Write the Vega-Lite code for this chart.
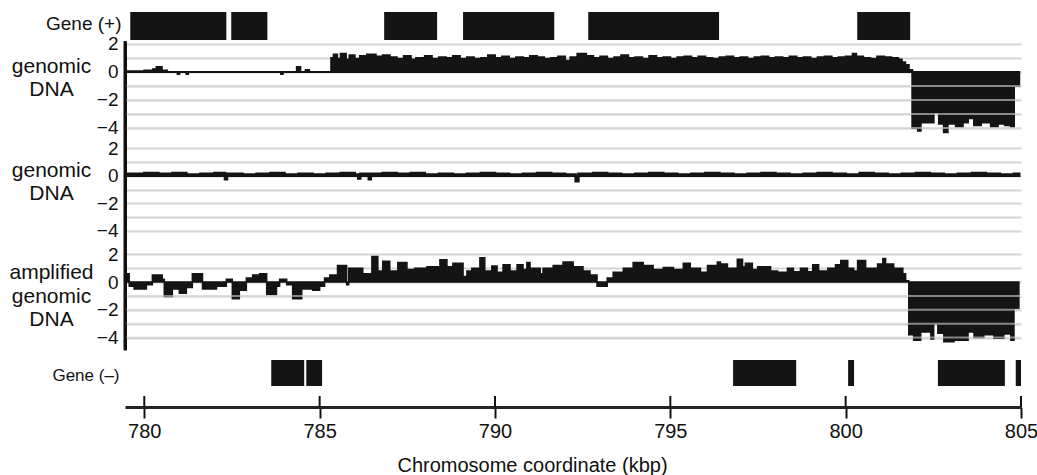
{
"$schema": "https://vega.github.io/schema/vega-lite/v6.json",
"background": "white",
"padding": {"left": 8, "top": 8, "right": 0, "bottom": 0},
"spacing": 0,
"bounds": "flush",
"config": {"view": {"stroke": null}, "font": "Liberation Sans"},
"datasets": {
"geneplus": [{"start":779.60,"end":782.34},{"start":782.48,"end":783.51},{"start":786.84,"end":788.35},{"start":789.09,"end":791.69},{"start":792.66,"end":796.39},{"start":800.33,"end":801.84}],
"geneminus": [{"start":783.62,"end":784.56},{"start":784.62,"end":785.07},{"start":796.79,"end":798.59},{"start":800.07,"end":800.24},{"start":802.63,"end":804.54},{"start":804.85,"end":805.0}],
"ticks": [{"t":780},{"t":785},{"t":790},{"t":795},{"t":800},{"t":805}],
"neg": [{"g":-1},{"g":-2},{"g":-3},{"g":-4}],
"edge": [{"e":779.45}],
"p1": [
{"kbp":779.5,"v":0.05},{"kbp":780.0,"v":0.1},{"kbp":780.25,"v":0.2},{"kbp":780.35,"v":0.35},{"kbp":780.5,"v":0.1},{"kbp":780.65,"v":0.0},{"kbp":780.95,"v":-0.15},{"kbp":781.0,"v":0.0},{"kbp":781.2,"v":-0.15},{"kbp":781.25,"v":0.0},{"kbp":783.9,"v":-0.15},{"kbp":783.95,"v":0.0},{"kbp":784.35,"v":0.35},{"kbp":784.45,"v":0.0},{"kbp":784.6,"v":0.15},{"kbp":784.7,"v":0.0},
{"kbp":785.33,"v":1.0},{"kbp":785.4,"v":1.25},{"kbp":785.5,"v":0.95},{"kbp":785.6,"v":1.3},{"kbp":785.75,"v":0.9},{"kbp":785.85,"v":1.2},{"kbp":786.0,"v":0.95},{"kbp":786.15,"v":1.15},{"kbp":786.35,"v":1.25},{"kbp":786.6,"v":1.1},{"kbp":786.8,"v":1.2},{"kbp":787.0,"v":1.05},{"kbp":787.2,"v":0.95},{"kbp":787.4,"v":1.15},{"kbp":787.6,"v":0.9},{"kbp":787.75,"v":1.0},{"kbp":788.0,"v":1.15},{"kbp":788.2,"v":0.95},{"kbp":788.4,"v":1.05},{"kbp":788.6,"v":1.0},{"kbp":788.8,"v":1.15},{"kbp":789.0,"v":0.95},{"kbp":789.2,"v":1.05},{"kbp":789.4,"v":0.95},{"kbp":789.6,"v":1.0},{"kbp":789.8,"v":1.2},{"kbp":790.0,"v":1.0},{"kbp":790.2,"v":1.1},{"kbp":790.4,"v":0.95},{"kbp":790.6,"v":1.05},{"kbp":790.8,"v":1.0},{"kbp":791.0,"v":1.15},{"kbp":791.2,"v":1.05},{"kbp":791.4,"v":0.95},{"kbp":791.6,"v":1.0},{"kbp":791.8,"v":1.1},{"kbp":792.0,"v":0.8},{"kbp":792.15,"v":1.05},{"kbp":792.35,"v":1.3},{"kbp":792.6,"v":1.15},{"kbp":792.8,"v":1.0},{"kbp":793.0,"v":1.1},{"kbp":793.2,"v":0.95},{"kbp":793.4,"v":1.05},{"kbp":793.6,"v":1.2},{"kbp":793.8,"v":1.0},{"kbp":794.0,"v":1.05},{"kbp":794.2,"v":0.95},{"kbp":794.4,"v":1.15},{"kbp":794.6,"v":1.0},{"kbp":794.8,"v":1.05},{"kbp":795.0,"v":0.95},{"kbp":795.2,"v":1.05},{"kbp":795.4,"v":1.1},{"kbp":795.6,"v":1.0},{"kbp":795.8,"v":1.1},{"kbp":796.0,"v":1.0},{"kbp":796.2,"v":0.95},{"kbp":796.4,"v":1.05},{"kbp":796.6,"v":1.1},{"kbp":796.8,"v":1.0},{"kbp":797.0,"v":1.05},{"kbp":797.2,"v":0.95},{"kbp":797.4,"v":1.05},{"kbp":797.6,"v":1.1},{"kbp":797.8,"v":1.0},{"kbp":798.0,"v":1.05},{"kbp":798.2,"v":1.0},{"kbp":798.4,"v":1.1},{"kbp":798.6,"v":1.0},{"kbp":798.8,"v":1.05},{"kbp":799.0,"v":0.95},{"kbp":799.2,"v":1.05},{"kbp":799.4,"v":1.1},{"kbp":799.6,"v":1.0},{"kbp":799.8,"v":1.05},{"kbp":800.0,"v":1.1},{"kbp":800.2,"v":1.3},{"kbp":800.3,"v":1.1},{"kbp":800.5,"v":1.0},{"kbp":800.7,"v":0.95},{"kbp":800.9,"v":1.1},{"kbp":801.1,"v":1.05},{"kbp":801.3,"v":1.0},{"kbp":801.5,"v":0.9},{"kbp":801.6,"v":0.7},{"kbp":801.7,"v":0.5},{"kbp":801.8,"v":0.15},
{"kbp":801.9,"v":-4.0},{"kbp":802.06,"v":-4.2},{"kbp":802.14,"v":-3.6},{"kbp":802.51,"v":-2.9},{"kbp":802.66,"v":-3.7},{"kbp":802.8,"v":-4.3},{"kbp":802.91,"v":-3.7},{"kbp":803.14,"v":-3.9},{"kbp":803.34,"v":-3.6},{"kbp":803.49,"v":-3.3},{"kbp":803.66,"v":-3.8},{"kbp":803.86,"v":-3.6},{"kbp":804.14,"v":-3.9},{"kbp":804.34,"v":-3.7},{"kbp":804.54,"v":-3.8},{"kbp":804.71,"v":-3.9},{"kbp":804.8,"v":-1.0},{"kbp":804.95,"v":-1.0}
],
"p2": [
{"kbp":779.5,"v":0.15},{"kbp":780.0,"v":0.2},{"kbp":780.4,"v":0.15},{"kbp":780.8,"v":0.2},{"kbp":781.2,"v":0.1},{"kbp":781.6,"v":0.15},{"kbp":782.0,"v":0.2},{"kbp":782.3,"v":-0.25},{"kbp":782.36,"v":0.15},{"kbp":782.8,"v":0.1},{"kbp":783.2,"v":0.15},{"kbp":783.6,"v":0.2},{"kbp":784.0,"v":0.1},{"kbp":784.4,"v":0.15},{"kbp":784.8,"v":0.1},{"kbp":785.2,"v":0.15},{"kbp":785.6,"v":0.2},{"kbp":786.0,"v":0.1},{"kbp":786.1,"v":-0.2},{"kbp":786.16,"v":0.15},{"kbp":786.4,"v":-0.25},{"kbp":786.46,"v":0.15},{"kbp":786.8,"v":0.2},{"kbp":787.2,"v":0.15},{"kbp":787.6,"v":0.2},{"kbp":788.0,"v":0.1},{"kbp":788.4,"v":0.15},{"kbp":788.8,"v":0.1},{"kbp":789.2,"v":0.15},{"kbp":789.6,"v":0.2},{"kbp":790.0,"v":0.15},{"kbp":790.4,"v":0.1},{"kbp":790.8,"v":0.15},{"kbp":791.2,"v":0.2},{"kbp":791.6,"v":0.15},{"kbp":792.0,"v":0.1},{"kbp":792.3,"v":-0.4},{"kbp":792.38,"v":0.15},{"kbp":792.8,"v":0.2},{"kbp":793.2,"v":0.15},{"kbp":793.6,"v":0.1},{"kbp":794.0,"v":0.15},{"kbp":794.4,"v":0.2},{"kbp":794.8,"v":0.15},{"kbp":795.2,"v":0.1},{"kbp":795.6,"v":0.15},{"kbp":796.0,"v":0.2},{"kbp":796.4,"v":0.15},{"kbp":796.8,"v":0.1},{"kbp":797.2,"v":0.15},{"kbp":797.6,"v":0.2},{"kbp":798.0,"v":0.15},{"kbp":798.4,"v":0.1},{"kbp":798.8,"v":0.15},{"kbp":799.2,"v":0.2},{"kbp":799.6,"v":0.15},{"kbp":800.0,"v":0.1},{"kbp":800.4,"v":0.2},{"kbp":800.8,"v":0.15},{"kbp":801.2,"v":0.1},{"kbp":801.6,"v":0.15},{"kbp":802.0,"v":0.2},{"kbp":802.4,"v":0.15},{"kbp":802.8,"v":0.1},{"kbp":803.2,"v":0.15},{"kbp":803.6,"v":0.2},{"kbp":804.0,"v":0.15},{"kbp":804.4,"v":0.1},{"kbp":804.8,"v":0.15},{"kbp":804.95,"v":0.15}
],
"p3": [
{"kbp":779.49,"v":0.6},{"kbp":779.57,"v":-0.3},{"kbp":779.71,"v":-0.5},{"kbp":780.06,"v":-0.2},{"kbp":780.23,"v":0.5},{"kbp":780.51,"v":0.2},{"kbp":780.57,"v":-1.05},{"kbp":780.8,"v":-0.5},{"kbp":781.0,"v":-0.8},{"kbp":781.2,"v":-0.4},{"kbp":781.37,"v":0.6},{"kbp":781.66,"v":-0.5},{"kbp":782.06,"v":-0.3},{"kbp":782.34,"v":0.2},{"kbp":782.51,"v":-1.2},{"kbp":782.71,"v":-0.6},{"kbp":782.91,"v":0.3},{"kbp":783.09,"v":0.5},{"kbp":783.29,"v":0.6},{"kbp":783.49,"v":-0.9},{"kbp":783.77,"v":-0.3},{"kbp":783.86,"v":0.2},{"kbp":784.06,"v":-0.2},{"kbp":784.23,"v":-1.2},{"kbp":784.49,"v":-0.5},{"kbp":784.8,"v":-0.6},{"kbp":785.0,"v":-0.3},{"kbp":785.14,"v":0.3},{"kbp":785.29,"v":0.5},{"kbp":785.51,"v":1.2},{"kbp":785.77,"v":-0.2},{"kbp":785.83,"v":1.0},{"kbp":786.23,"v":0.6},{"kbp":786.49,"v":1.85},{"kbp":786.66,"v":0.8},{"kbp":786.8,"v":1.5},{"kbp":787.0,"v":0.8},{"kbp":787.23,"v":1.4},{"kbp":787.49,"v":0.9},{"kbp":787.71,"v":1.0},{"kbp":788.06,"v":1.1},{"kbp":788.43,"v":1.6},{"kbp":788.63,"v":1.1},{"kbp":788.8,"v":1.35},{"kbp":789.09,"v":0.4},{"kbp":789.2,"v":0.8},{"kbp":789.34,"v":1.0},{"kbp":789.57,"v":1.75},{"kbp":789.71,"v":0.8},{"kbp":789.91,"v":1.15},{"kbp":790.06,"v":0.7},{"kbp":790.23,"v":1.25},{"kbp":790.43,"v":0.8},{"kbp":790.63,"v":1.25},{"kbp":790.8,"v":0.9},{"kbp":790.91,"v":1.4},{"kbp":791.0,"v":1.0},{"kbp":791.29,"v":0.6},{"kbp":791.37,"v":1.0},{"kbp":791.66,"v":1.2},{"kbp":791.94,"v":1.45},{"kbp":792.23,"v":1.1},{"kbp":792.51,"v":0.8},{"kbp":792.71,"v":0.5},{"kbp":792.91,"v":-0.3},{"kbp":793.2,"v":0.3},{"kbp":793.37,"v":0.7},{"kbp":793.66,"v":1.0},{"kbp":793.94,"v":1.4},{"kbp":794.23,"v":1.2},{"kbp":794.51,"v":0.9},{"kbp":794.8,"v":1.05},{"kbp":795.09,"v":0.9},{"kbp":795.37,"v":1.35},{"kbp":795.57,"v":1.0},{"kbp":795.86,"v":0.7},{"kbp":796.06,"v":1.2},{"kbp":796.34,"v":1.45},{"kbp":796.43,"v":1.3},{"kbp":796.63,"v":1.0},{"kbp":796.91,"v":1.65},{"kbp":797.06,"v":1.1},{"kbp":797.14,"v":1.35},{"kbp":797.34,"v":0.9},{"kbp":797.49,"v":1.1},{"kbp":797.86,"v":0.8},{"kbp":798.06,"v":0.7},{"kbp":798.34,"v":1.0},{"kbp":798.51,"v":0.75},{"kbp":798.71,"v":1.0},{"kbp":798.91,"v":0.75},{"kbp":799.06,"v":1.25},{"kbp":799.23,"v":0.8},{"kbp":799.49,"v":1.0},{"kbp":799.71,"v":1.25},{"kbp":799.86,"v":1.55},{"kbp":800.06,"v":1.0},{"kbp":800.23,"v":0.8},{"kbp":800.34,"v":1.55},{"kbp":800.57,"v":1.0},{"kbp":800.91,"v":1.3},{"kbp":801.06,"v":1.7},{"kbp":801.14,"v":1.3},{"kbp":801.37,"v":1.0},{"kbp":801.63,"v":0.6},{"kbp":801.71,"v":0.1},
{"kbp":801.8,"v":-3.8},{"kbp":801.94,"v":-4.2},{"kbp":802.14,"v":-3.6},{"kbp":802.43,"v":-4.1},{"kbp":802.51,"v":-3.0},{"kbp":802.63,"v":-3.7},{"kbp":802.8,"v":-4.3},{"kbp":803.09,"v":-4.2},{"kbp":803.49,"v":-3.6},{"kbp":803.66,"v":-4.0},{"kbp":803.94,"v":-3.8},{"kbp":804.23,"v":-4.05},{"kbp":804.51,"v":-3.75},{"kbp":804.71,"v":-4.2},{"kbp":804.8,"v":-1.9},{"kbp":804.94,"v":-1.9}
]
},
"vconcat": [
{
 "width": 896, "height": 33,
 "data": {"name": "geneplus"},
 "mark": {"type": "rect", "fill": "#141414"},
 "encoding": {
  "x": {"field": "start", "type": "quantitative", "scale": {"domain": [779.45, 805.0], "nice": false, "zero": false}, "axis": null},
  "x2": {"field": "end"},
  "y": {"datum": 0.03, "type": "quantitative", "scale": {"domain": [0, 1], "nice": false},
        "axis": {"title": "Gene (+)", "titleAngle": 0, "titleAlign": "right", "titleBaseline": "alphabetic", "titleX": -4, "titleY": 21, "titleFontSize": 19, "titleFontWeight": "normal", "titleColor": "#111", "labels": false, "ticks": false, "domain": false, "grid": false}},
  "y2": {"datum": 0.879}
 }
},
{
 "width": 896, "height": 101,
 "layer": [
  {"data": {"name": "p1"},
   "mark": {"type": "area", "interpolate": "step-after", "fill": "#141414", "stroke": "#141414", "strokeWidth": 2},
   "encoding": {
    "x": {"field": "kbp", "type": "quantitative", "scale": {"domain": [779.45, 805.0], "nice": false, "zero": false}, "axis": null},
    "y": {"field": "v", "type": "quantitative", "scale": {"domain": [-5.0, 2.214], "nice": false},
          "axis": {"values": [2,1,0,-1,-2,-3,-4], "format": "d", "labelExpr": "datum.value % 2 === 0 ? datum.label : ''", "ticks": false, "tickSize": 0, "labelPadding": 7, "labelFontSize": 19, "labelColor": "#111", "labelBound": false, "labelOverlap": false, "domain": true, "domainColor": "#111", "domainWidth": 3, "grid": true, "gridColor": "#d4d4d4", "gridWidth": 2, "title": ["genomic", "DNA"], "titleAngle": 0, "titleAlign": "center", "titleBaseline": "alphabetic", "titleX": -74, "titleY": 31.5, "titleFontSize": 21, "titleFontWeight": "normal", "titleLineHeight": 23, "titleColor": "#111"}},
    "y2": {"datum": 0}
   }},
  {"data": {"name": "neg"},
   "mark": {"type": "rule", "color": "#d4d4d4", "opacity": 0.6, "strokeWidth": 2},
   "encoding": {"y": {"field": "g", "type": "quantitative",
          "axis": {"values": [2,1,0,-1,-2,-3,-4], "format": "d", "labelExpr": "datum.value % 2 === 0 ? datum.label : ''", "ticks": false, "tickSize": 0, "labelPadding": 7, "labelFontSize": 19, "labelColor": "#111", "labelBound": false, "labelOverlap": false, "domain": true, "domainColor": "#111", "domainWidth": 3, "grid": true, "gridColor": "#d4d4d4", "gridWidth": 2, "title": ["genomic", "DNA"], "titleAngle": 0, "titleAlign": "center", "titleBaseline": "alphabetic", "titleX": -74, "titleY": 31.5, "titleFontSize": 21, "titleFontWeight": "normal", "titleLineHeight": 23, "titleColor": "#111"}}}},
  {"data": {"name": "edge"},
   "mark": {"type": "rule", "color": "#111", "strokeWidth": 3},
   "encoding": {"x": {"field": "e", "type": "quantitative"}}}
 ]
},
{
 "width": 896, "height": 106,
 "layer": [
  {"data": {"name": "p2"},
   "mark": {"type": "area", "interpolate": "step-after", "fill": "#141414", "stroke": "#141414", "strokeWidth": 2.5},
   "encoding": {
    "x": {"field": "kbp", "type": "quantitative", "scale": {"domain": [779.45, 805.0], "nice": false, "zero": false}, "axis": null},
    "y": {"field": "v", "type": "quantitative", "scale": {"domain": [-5.26, 2.459], "nice": false},
          "axis": {"values": [2,1,0,-1,-2,-3,-4], "format": "d", "labelExpr": "datum.value % 2 === 0 ? datum.label : ''", "ticks": false, "tickSize": 0, "labelPadding": 7, "labelFontSize": 19, "labelColor": "#111", "labelBound": false, "labelOverlap": false, "domain": true, "domainColor": "#111", "domainWidth": 3, "grid": true, "gridColor": "#d4d4d4", "gridWidth": 2, "title": ["genomic", "DNA"], "titleAngle": 0, "titleAlign": "center", "titleBaseline": "alphabetic", "titleX": -74, "titleY": 34.5, "titleFontSize": 21, "titleFontWeight": "normal", "titleLineHeight": 23, "titleColor": "#111"}},
    "y2": {"datum": 0}
   }},
  {"data": {"name": "edge"},
   "mark": {"type": "rule", "color": "#111", "strokeWidth": 3},
   "encoding": {"x": {"field": "e", "type": "quantitative"}}}
 ]
},
{
 "width": 896, "height": 102,
 "layer": [
  {"data": {"name": "p3"},
   "mark": {"type": "area", "interpolate": "step-after", "fill": "#141414", "stroke": "#141414", "strokeWidth": 1.5},
   "encoding": {
    "x": {"field": "kbp", "type": "quantitative", "scale": {"domain": [779.45, 805.0], "nice": false, "zero": false}, "axis": null},
    "y": {"field": "v", "type": "quantitative", "scale": {"domain": [-4.9, 2.454], "nice": false},
          "axis": {"values": [2,1,0,-1,-2,-3,-4], "format": "d", "labelExpr": "datum.value % 2 === 0 ? datum.label : ''", "ticks": false, "tickSize": 0, "labelPadding": 7, "labelFontSize": 19, "labelColor": "#111", "labelBound": false, "labelOverlap": false, "domain": true, "domainColor": "#111", "domainWidth": 3, "grid": true, "gridColor": "#d4d4d4", "gridWidth": 2, "title": ["amplified", "genomic", "DNA"], "titleAngle": 0, "titleAlign": "center", "titleBaseline": "alphabetic", "titleX": -74, "titleY": 30.6, "titleFontSize": 21, "titleFontWeight": "normal", "titleLineHeight": 23.5, "titleColor": "#111"}},
    "y2": {"datum": 0}
   }},
  {"data": {"name": "neg"},
   "mark": {"type": "rule", "color": "#d4d4d4", "opacity": 0.6, "strokeWidth": 2},
   "encoding": {"y": {"field": "g", "type": "quantitative",
          "axis": {"values": [2,1,0,-1,-2,-3,-4], "format": "d", "labelExpr": "datum.value % 2 === 0 ? datum.label : ''", "ticks": false, "tickSize": 0, "labelPadding": 7, "labelFontSize": 19, "labelColor": "#111", "labelBound": false, "labelOverlap": false, "domain": true, "domainColor": "#111", "domainWidth": 3, "grid": true, "gridColor": "#d4d4d4", "gridWidth": 2, "title": ["amplified", "genomic", "DNA"], "titleAngle": 0, "titleAlign": "center", "titleBaseline": "alphabetic", "titleX": -74, "titleY": 30.6, "titleFontSize": 21, "titleFontWeight": "normal", "titleLineHeight": 23.5, "titleColor": "#111"}}}},
  {"data": {"name": "edge"},
   "mark": {"type": "rule", "color": "#111", "strokeWidth": 3},
   "encoding": {"x": {"field": "e", "type": "quantitative"}}}
 ]
},
{
 "width": 896, "height": 57,
 "layer": [
  {"data": {"name": "geneminus"},
   "mark": {"type": "rect", "fill": "#141414"},
   "encoding": {
    "x": {"field": "start", "type": "quantitative", "scale": {"domain": [779.45, 805.0], "nice": false, "zero": false},
          "axis": {"values": [780,785,790,795,800,805], "format": "d", "tickSize": 11, "tickWidth": 2, "tickColor": "#111", "domainColor": "#222", "domainWidth": 3, "labelFontSize": 20, "labelPadding": 3, "labelFlush": false, "labelColor": "#111", "labelOverlap": false, "labelBound": false, "grid": false, "title": "Chromosome coordinate (kbp)", "titleFontSize": 20, "titleFontWeight": "normal", "titleColor": "#111", "titlePadding": 14, "titleX": 407}},
    "x2": {"field": "end"},
    "y": {"datum": 0.368, "type": "quantitative", "scale": {"domain": [0, 1], "nice": false},
          "axis": {"title": "Gene (–)", "titleAngle": 0, "titleAlign": "right", "titleBaseline": "alphabetic", "titleX": -6, "titleY": 30, "titleFontSize": 17, "titleFontWeight": "normal", "titleColor": "#111", "labels": false, "ticks": false, "domain": false, "grid": false}},
    "y2": {"datum": 0.825}
   }},
  {"data": {"name": "ticks"},
   "mark": {"type": "rule", "color": "#111", "strokeWidth": 2},
   "encoding": {
    "x": {"field": "t", "type": "quantitative"},
    "y": {"datum": 0},
    "y2": {"datum": 0.193}
   }}
 ]
}
]
}
